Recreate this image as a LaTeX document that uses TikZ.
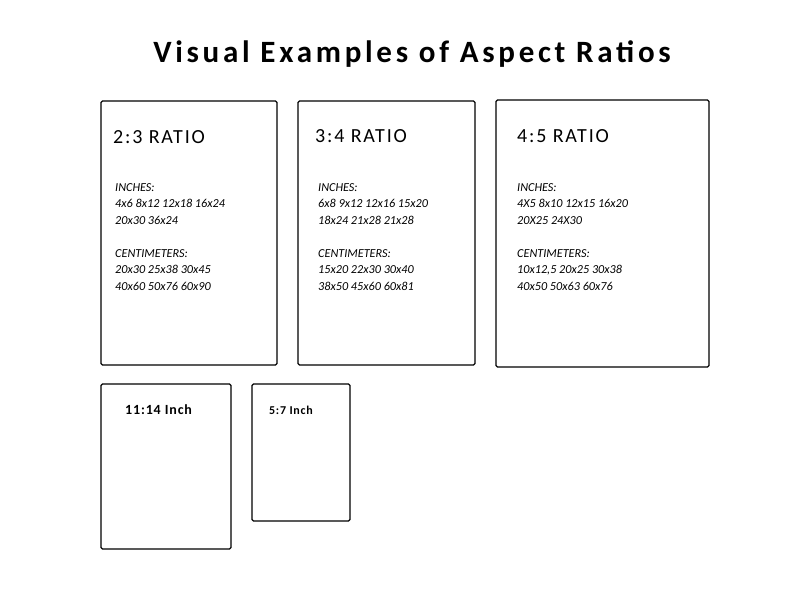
\documentclass[tikz,border=0pt]{standalone}
\usepackage{fontspec}
\setmainfont{Carlito}
\begin{document}
\begin{tikzpicture}[x=1pt,y=-1pt,
 box/.style={draw,line width=1.2pt,rounded corners=1.5pt},
 head/.style={anchor=west,font=\fontsize{20}{21}\selectfont\addfontfeature{LetterSpace=9},inner sep=0},
 small/.style={anchor=west,font=\fontsize{14}{15}\selectfont\bfseries\addfontfeature{LetterSpace=6},inner sep=0},
 body/.style={anchor=north west,font=\itshape\fontsize{12.2}{16.5}\selectfont,align=left,inner sep=0}]
\useasboundingbox (0,0) rectangle (794,596);
\node[font=\fontsize{31}{33}\selectfont\bfseries\addfontfeature{LetterSpace=12}] (title) at (412,54) {Visual Examples of Aspect Ratios};
\draw[box] (101,101) rectangle (277,365);
\draw[box] (298,101) rectangle (475,365);
\draw[box] (496,100) rectangle (709,367);
\draw[box] (101,384) rectangle (231,549);
\draw[box] (252,384) rectangle (350,521);
\node[head] (h1) at (113,137) {2:3 RATIO};
\node[head] (h2) at (315,136) {3:4 RATIO};
\node[head] (h3) at (517,136) {4:5 RATIO};
\node[small] (h4) at (125,410) {11:14 Inch};
\node[font=\fontsize{12}{13}\selectfont\bfseries\addfontfeature{LetterSpace=6},anchor=west,inner sep=0] (h5) at (269,410) {5:7 Inch};
\node[body] (b1) at (115,183) {INCHES:\\4x6 8x12 12x18 16x24\\20x30 36x24\\[16.5pt]CENTIMETERS:\\20x30 25x38 30x45\\40x60 50x76 60x90};
\node[body] (b2) at (318,183) {INCHES:\\6x8 9x12 12x16 15x20\\18x24 21x28 21x28\\[16.5pt]CENTIMETERS:\\15x20 22x30 30x40\\38x50 45x60 60x81};
\node[body] (b3) at (517,183) {INCHES:\\4X5 8x10 12x15 16x20\\20X25 24X30\\[16.5pt]CENTIMETERS:\\10x12,5 20x25 30x38\\40x50 50x63 60x76};
\end{tikzpicture}
\end{document}
